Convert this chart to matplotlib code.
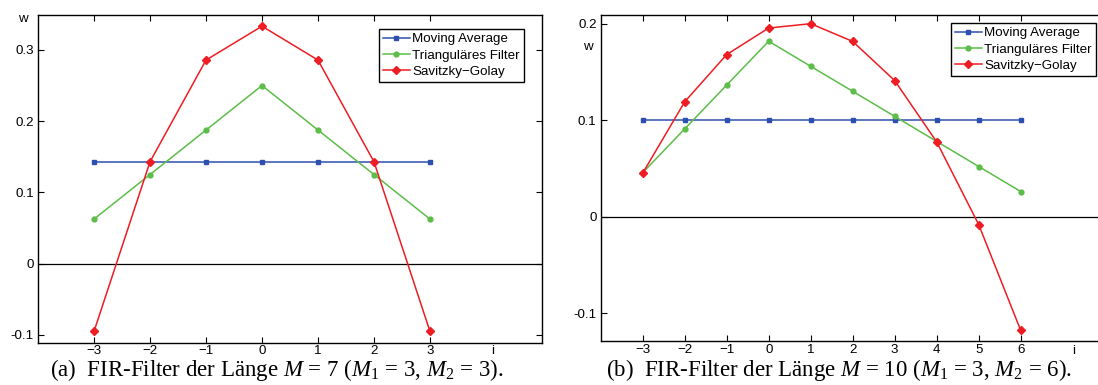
import matplotlib
matplotlib.use('Agg')
import matplotlib.pyplot as plt

plt.rcParams['font.family'] = ['Liberation Sans', 'DejaVu Sans']
plt.rcParams['mathtext.fontset'] = 'custom'
plt.rcParams['mathtext.rm'] = 'Liberation Serif'
plt.rcParams['mathtext.it'] = 'Liberation Serif:italic'

# (a) M = 7
i_a = [-3, -2, -1, 0, 1, 2, 3]
ma_a = [0.1429, 0.1429, 0.1429, 0.1429, 0.1429, 0.1429, 0.1429]
tri_a = [0.0625, 0.125, 0.1875, 0.25, 0.1875, 0.125, 0.0625]
sg_a = [-0.0952, 0.1429, 0.2857, 0.3333, 0.2857, 0.1429, -0.0952]

# (b) M = 10
i_b = [-3, -2, -1, 0, 1, 2, 3, 4, 5, 6]
ma_b = [0.1, 0.1, 0.1, 0.1, 0.1, 0.1, 0.1, 0.1, 0.1, 0.1]
tri_b = [0.0455, 0.0909, 0.1364, 0.1818, 0.1558, 0.1299, 0.1039, 0.0779, 0.0519, 0.026]
sg_b = [0.045, 0.119, 0.168, 0.1955, 0.2, 0.1816, 0.141, 0.0774, -0.0083, -0.118]

labels = ['Moving Average', 'Trianguläres Filter', 'Savitzky\u2212Golay']
captions = ['(a)  FIR-Filter der Länge $M$ = 7 ($M_1$ = 3, $M_2$ = 3).',
            '(b)  FIR-Filter der Länge $M$ = 10 ($M_1$ = 3, $M_2$ = 6).']

blau = '#2d4fb0'
gruen = '#5cbd48'
rot = '#ee1d23'

fig = plt.figure(figsize=(10.98, 3.85), dpi=100)

W, H = 1098, 385
ax_a = fig.add_axes([38 / W, 1 - 342.7 / H, 504 / W, (342.7 - 15) / H])
ax_b = fig.add_axes([600.7 / W, 1 - 341 / H, 504 / W, (341 - 15) / H])


def draw(ax, i, ma, tri, sg, ylim, xlim, yticks, yticklabels, leg_pos):
    ax.axhline(0, color='black', lw=0.9, zorder=1)
    ax.plot(i, ma, '-s', color=blau, lw=1.1, ms=3, label=labels[0])
    ax.plot(i, tri, '-o', color=gruen, lw=1.1, ms=3.5, label=labels[1])
    ax.plot(i, sg, '-D', color=rot, lw=1.1, ms=4, label=labels[2])
    ax.set_xlim(*xlim)
    ax.set_ylim(*ylim)
    ax.set_xticks(i)
    ax.set_xticklabels([str(v).replace('-', '\u2212') for v in i])
    ax.set_yticks(yticks)
    ax.set_yticklabels(yticklabels)
    ax.tick_params(direction='in', top=True, right=True, length=4, width=0.8,
                   labelsize=9.6, pad=3, colors='black')
    ax.tick_params(axis='x', pad=2)
    for s in ax.spines.values():
        s.set_linewidth(1.0)
    leg = ax.legend(loc='upper left', bbox_to_anchor=leg_pos, bbox_transform=fig.transFigure,
                    borderaxespad=0, fancybox=False, framealpha=1, edgecolor='black',
                    fontsize=9.6, handlelength=2.0, handletextpad=0.2, labelspacing=0.3,
                    borderpad=0.3)
    leg.get_frame().set_linewidth(1.0)


draw(ax_a, i_a, ma_a, tri_a, sg_a, (-0.111, 0.349), (-4, 5),
     [-0.1, 0, 0.1, 0.2, 0.3], ['-0.1', '0', '0.1', '0.2', '0.3'],
     (379 / W, 1 - 29 / H))
draw(ax_b, i_b, ma_b, tri_b, sg_b, (-0.129, 0.209), (-4, 8),
     [-0.1, 0, 0.1, 0.2], ['-0.1', '0', '0.1', '0.2'],
     (951 / W, 1 - 23 / H))

# Achsenbeschriftungen w und i
fig.text(23 / W, 1 - 19 / H, 'w', ha='center', va='center', fontsize=9.6)
fig.text(588 / W, 1 - 47 / H, 'w', ha='center', va='center', fontsize=9.6)
fig.text(493 / W, 1 - 351 / H, 'i', ha='center', va='center', fontsize=9.6)
fig.text(1074 / W, 1 - 351 / H, 'i', ha='center', va='center', fontsize=9.6)

# Bildunterschriften
fig.text(277 / W, 1 - 376 / H, captions[0], ha='center', va='baseline',
         fontsize=16.5, family='Liberation Serif')
fig.text(839 / W, 1 - 376 / H, captions[1], ha='center', va='baseline',
         fontsize=16.5, family='Liberation Serif')

fig.savefig('out.png', dpi=100)
